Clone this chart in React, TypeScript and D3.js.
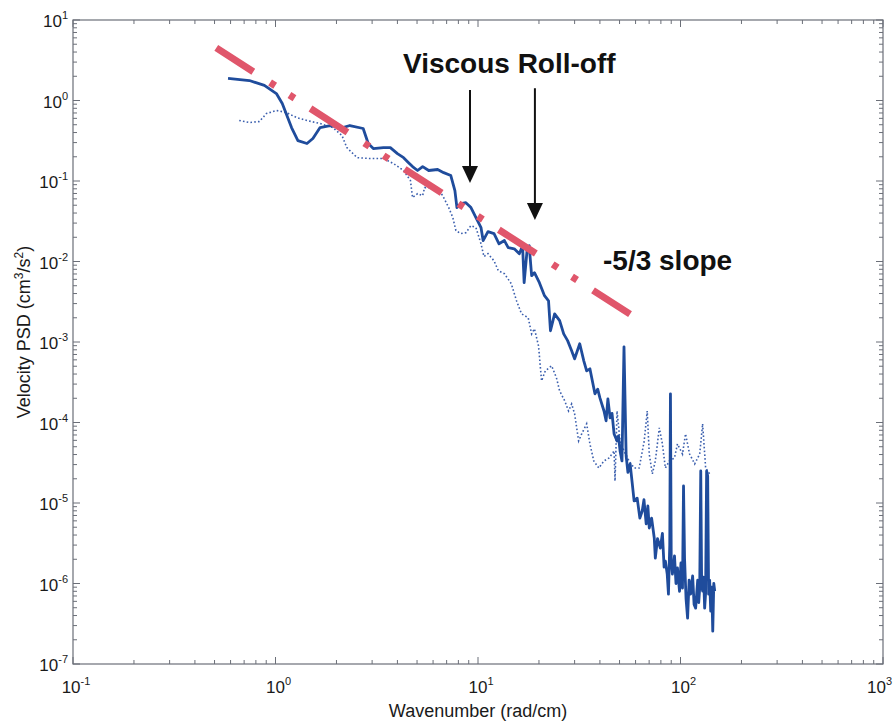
import React from "react";
import * as d3 from "d3";

// ---- Data ----
// Solid spectrum (wavenumber in rad/cm, PSD in cm^3/s^2)
const solidK = [
  0.583, 0.743, 0.881, 1.01, 1.08, 1.2, 1.29, 1.43, 1.53, 1.66, 1.86, 2.15, 2.33, 2.71, 2.87,
  3.04, 3.41, 3.69, 4.0, 4.29, 4.54, 4.75, 5.03, 5.33, 5.71, 6.32, 6.77, 7.34, 7.69, 7.87,
  8.23, 8.71, 9.23, 9.77, 10.35, 10.6, 11.2, 12.0, 12.7, 13.5, 14.1, 15.1, 16.0, 16.6, 16.9,
  17.5, 17.9, 18.4, 19.0, 20.1, 21.3, 22.3, 22.8, 23.9, 25.3, 26.5, 27.7, 29.0, 30.0, 31.8,
  33.3, 34.4, 35.7, 37.8, 39.0, 40.0, 41.9, 42.9, 43.8, 44.9, 45.9, 47.0, 48.6, 49.4, 50.3,
  51.4, 52.6, 53.9, 55.0, 56.4, 57.7,
  59.0, 61.1, 63.0, 64.7, 66.0, 67.7, 69.0, 70.1, 72.0, 74.2, 75.1, 77.0, 79.5, 81.4, 83.0,
  84.2, 86.0, 87.2, 88.5, 89.2, 90.0, 91.2, 93.4, 95.0, 96.6, 98.9, 100.5, 102.3, 103.5, 104.7,
  106.5, 108.4, 110.3, 112.2, 114.8, 116.7, 118.8, 121.6, 123.0, 124.4, 125.9, 127.2, 128.6, 130.1, 131.6,
  133.0, 134.6, 136.2, 137.7, 139.3, 141.0, 142.7, 144.3, 146.0, 147.6,
];
const solidPsd = [
  1.88, 1.77, 1.54, 1.22, 0.918, 0.461, 0.318, 0.292, 0.337, 0.461, 0.489, 0.461, 0.489, 0.449, 0.292,
  0.253, 0.26, 0.26, 0.219, 0.195, 0.169, 0.151, 0.135, 0.151, 0.135, 0.139, 0.127, 0.117, 0.076, 0.0467,
  0.0524, 0.0538, 0.0467, 0.0351, 0.0263, 0.0182, 0.0235, 0.0222, 0.0166, 0.0182, 0.0149, 0.0144, 0.0125, 0.0157, 0.00545,
  0.0144, 0.0157, 0.00666, 0.00726, 0.00545, 0.00376, 0.00325, 0.00138, 0.00224, 0.00184, 0.00126, 0.00104, 7.78e-4, 6.18e-4, 9.5e-4,
  5.83e-4, 4.38e-4, 4.64e-4, 2.27e-4, 2.6e-4, 2.02e-4, 1.39e-4, 1.05e-4, 1.97e-4, 1.14e-4, 1.3e-4, 7.21e-5, 5.9e-5, 6.8e-5, 4.43e-5,
  3.33e-5, 8.71e-4, 3.84e-5, 2.4e-5, 3.06e-5, 1.8e-5,
  1.06e-5, 1.15e-5, 6.5e-6, 7.94e-6, 1.1e-5, 5.5e-6, 9.18e-6, 4.89e-6, 6.5e-6, 3.67e-6, 2.07e-6, 3.6e-6, 2.75e-6, 4.2e-6, 1.6e-6,
  1.9e-6, 1.3e-6, 7.38e-7, 3.0e-6, 2.27e-4, 1.9e-6, 1.31e-6, 2.2e-6, 1.0e-6, 1.56e-6, 8.0e-7, 1.8e-6, 8.77e-7, 1.63e-5, 2.07e-6,
  6.5e-7, 3.72e-7, 1.1e-6, 7.38e-7, 1.24e-6, 5.5e-7, 4.94e-7, 1.1e-6, 5.8e-7, 8.77e-7, 2.5e-5, 9.5e-7, 8.04e-7, 1.2e-6, 4.94e-7,
  7.5e-7, 2.5e-5, 2.17e-5, 7.38e-7, 1.1e-6, 4.54e-7, 9.0e-7, 2.56e-7, 1.0e-6, 8.04e-7,
];

// Dotted spectrum
const dottedK = [
  0.662, 0.743, 0.832, 0.902, 1.01, 1.13, 1.27, 1.43, 1.66, 1.92, 2.13, 2.25, 2.53, 2.94, 3.41,
  3.82, 4.29, 4.64, 4.75, 5.03, 5.33, 5.45, 5.84, 6.55, 6.77, 7.17, 7.51, 7.78, 8.23, 8.71,
  9.23, 9.77, 10.35, 10.7, 11.2, 12.0, 12.6, 13.5, 14.6, 15.5, 16.4, 17.7, 18.4, 19.0, 19.9,
  20.6, 21.5, 23.1, 24.4, 25.3, 26.8, 28.0, 29.0, 30.0, 31.4, 32.5, 34.4, 35.7, 37.3, 39.5,
  41.9, 44.4, 47.0, 47.5, 48.6, 50.3, 52.6, 55.7, 59.0, 62.5, 66.2, 68.5, 70.1, 72.6, 75.1,
  78.6, 81.4, 84.2, 88.2, 93.4, 96.6, 102.3, 105.9, 110.9, 117.5, 124.4, 128.6, 133.1, 139.3,
];
const dottedPsd = [
  0.564, 0.532, 0.548, 0.689, 0.751, 0.709, 0.615, 0.564, 0.518, 0.461, 0.367, 0.26, 0.195, 0.19, 0.19,
  0.165, 0.135, 0.101, 0.0622, 0.0697, 0.0658, 0.0828, 0.0828, 0.0718, 0.0622, 0.0467, 0.0351, 0.0242, 0.0222, 0.0228,
  0.0279, 0.0263, 0.0166, 0.0115, 0.0125, 0.0102, 0.00769, 0.00705, 0.0053, 0.00325, 0.00224, 0.002, 0.00126, 0.00146, 8.97e-4,
  3.29e-4, 4.38e-4, 5.06e-4, 3.59e-4, 2.47e-4, 1.86e-4, 1.39e-4, 1.7e-4, 1.28e-4, 5.9e-5, 7.21e-5, 9.62e-5, 5.42e-5, 3.33e-5, 2.72e-5,
  3.33e-5, 3.63e-5, 4.43e-5, 1.88e-5, 1.39e-4, 5.9e-5, 4.43e-5, 3.33e-5, 2.72e-5, 2.72e-5, 5.9e-5, 1.39e-4, 4.06e-5, 2.3e-5, 3.33e-5,
  8.57e-5, 5.42e-5, 2.72e-5, 3.33e-5, 3.63e-5, 5.42e-5, 4.06e-5, 7.21e-5, 4.06e-5, 3.06e-5, 4.06e-5, 9.62e-5, 2.72e-5, 2.3e-5,
];

// -5/3 reference line end points
const slopeK = [0.51, 62];
const slopePsd = [4.5, 0.0019];

// Viscous roll-off arrows
const arrowK = [9.13, 19.1];
const arrowTopPsd = [1.35, 1.42];
const arrowTipPsd = [0.0944, 0.0328];

const xDecades = [-1, 0, 1, 2, 3];
const yDecades = [-7, -6, -5, -4, -3, -2, -1, 0, 1];

const W = 893;
const H = 723;
const M = { left: 73, right: 883, top: 20, bottom: 664 };
const FONT = "Arial, 'Liberation Sans', Helvetica, sans-serif";

export default function App() {
  const x = d3.scaleLog().domain([0.1, 1000]).range([M.left, M.right]);
  const y = d3.scaleLog().domain([1e-7, 10]).range([M.bottom, M.top]);

  const line = d3
    .line<[number, number]>()
    .x((d) => x(d[0]))
    .y((d) => y(d[1]));

  const solidData = solidK.map((k, i) => [k, solidPsd[i]] as [number, number]);
  const dottedData = dottedK.map((k, i) => [k, dottedPsd[i]] as [number, number]);
  const slopeData = slopeK.map((k, i) => [k, slopePsd[i]] as [number, number]);

  const axisColor = "#6b6f78";
  const textColor = "#1a1a1a";

  const xMinor: number[] = [];
  for (let e = -1; e < 3; e++) for (let m = 2; m <= 9; m++) xMinor.push(m * Math.pow(10, e));
  const yMinor: number[] = [];
  for (let e = -7; e < 1; e++) for (let m = 2; m <= 9; m++) yMinor.push(m * Math.pow(10, e));

  const MAJ = 7;
  const MIN = 4;

  return (
    <svg
      width={W}
      height={H}
      style={{ position: "absolute", left: 0, top: 0, background: "#fff" }}
      fontFamily={FONT}
    >
      <rect x={0} y={0} width={W} height={H} fill="#fff" />

      {/* ticks */}
      <g stroke={axisColor} strokeWidth={1}>
        {xDecades.map((e) => {
          const px = x(Math.pow(10, e));
          return (
            <g key={"xM" + e}>
              <line x1={px} x2={px} y1={M.bottom} y2={M.bottom - MAJ} />
              <line x1={px} x2={px} y1={M.top} y2={M.top + MAJ} />
            </g>
          );
        })}
        {xMinor.map((v, i) => {
          const px = x(v);
          return (
            <g key={"xm" + i}>
              <line x1={px} x2={px} y1={M.bottom} y2={M.bottom - MIN} />
              <line x1={px} x2={px} y1={M.top} y2={M.top + MIN} />
            </g>
          );
        })}
        {yDecades.map((e) => {
          const py = y(Math.pow(10, e));
          return (
            <g key={"yM" + e}>
              <line x1={M.left} x2={M.left + MAJ} y1={py} y2={py} />
              <line x1={M.right} x2={M.right - MAJ} y1={py} y2={py} />
            </g>
          );
        })}
        {yMinor.map((v, i) => {
          const py = y(v);
          return (
            <g key={"ym" + i}>
              <line x1={M.left} x2={M.left + MIN} y1={py} y2={py} />
              <line x1={M.right} x2={M.right - MIN} y1={py} y2={py} />
            </g>
          );
        })}
      </g>

      {/* data */}
      <path
        d={line(dottedData) || ""}
        fill="none"
        stroke="#3b5fae"
        strokeWidth={1.6}
        strokeDasharray="1.6 2.2"
      />
      <path
        d={line(solidData) || ""}
        fill="none"
        stroke="#1f4c9c"
        strokeWidth={2.8}
        strokeLinejoin="round"
      />

      {/* -5/3 slope line */}
      <path
        d={line(slopeData) || ""}
        fill="none"
        stroke="#e0566b"
        strokeWidth={7}
        strokeDasharray="44 20 6 17 6 19"
      />

      {/* axes box */}
      <rect
        x={M.left}
        y={M.top}
        width={M.right - M.left}
        height={M.bottom - M.top}
        fill="none"
        stroke={axisColor}
        strokeWidth={1.2}
      />

      {/* tick labels */}
      <g fill={textColor} fontSize={17}>
        {xDecades.map((e) => {
          const last = e === xDecades[xDecades.length - 1];
          return (
            <text
              key={"xl" + e}
              x={last ? W - 1 : x(Math.pow(10, e)) + 3}
              y={693}
              textAnchor={last ? "end" : "middle"}
            >
              10
              <tspan dy={-8} fontSize={11}>
                {e < 0 ? "-" + Math.abs(e) : String(e)}
              </tspan>
            </text>
          );
        })}
        {yDecades.map((e) => (
          <text key={"yl" + e} x={68} y={y(Math.pow(10, e)) + 7} textAnchor="end">
            10
            <tspan dy={-8} fontSize={11}>
              {e < 0 ? "-" + Math.abs(e) : String(e)}
            </tspan>
          </text>
        ))}
      </g>

      {/* axis labels */}
      <text x={(M.left + M.right) / 2} y={717} textAnchor="middle" fontSize={18} fill={textColor}>
        Wavenumber (rad/cm)
      </text>
      <text
        transform={`translate(30, 332) rotate(-90)`}
        textAnchor="middle"
        fontSize={18}
        fill={textColor}
      >
        Velocity PSD (cm
        <tspan dy={-7} fontSize={12}>3</tspan>
        <tspan dy={7}>/s</tspan>
        <tspan dy={-7} fontSize={12}>2</tspan>
        <tspan dy={7}>)</tspan>
      </text>

      {/* annotations */}
      <text x={403} y={73} fontSize={28} fontWeight="bold" fill="#111">
        Viscous Roll-off
      </text>
      <text x={603} y={270} fontSize={28} fontWeight="bold" fill="#111">
        -5/3 slope
      </text>
      {arrowK.map((k, i) => {
        const px = x(k);
        const top = y(arrowTopPsd[i]);
        const tip = y(arrowTipPsd[i]);
        return (
          <g key={"ar" + i}>
            <line x1={px} x2={px} y1={top} y2={tip - 14} stroke="#111" strokeWidth={2} />
            <path d={`M${px - 8},${tip - 17} L${px + 8},${tip - 17} L${px},${tip} Z`} fill="#111" />
          </g>
        );
      })}
    </svg>
  );
}
